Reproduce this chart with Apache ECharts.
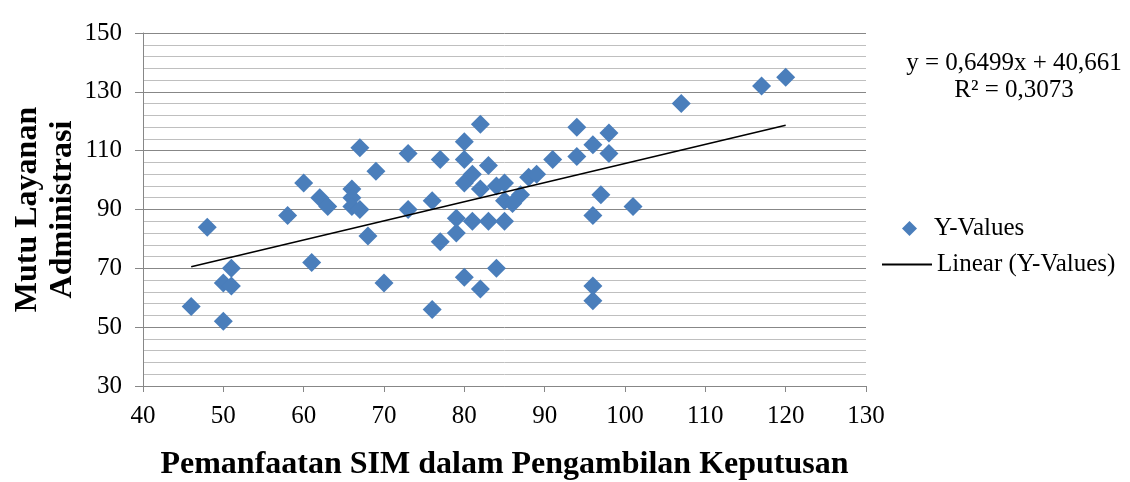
<!DOCTYPE html>
<html>
<head>
<meta charset="utf-8">
<script src="https://cdn.jsdelivr.net/npm/echarts@6/dist/echarts.min.js"></script>
<style>
html,body{margin:0;padding:0;background:#fff;}
#chart{width:1130px;height:482px;}
</style>
</head>
<body>
<div id="chart"></div>
<script>
// Data
const xValues = [46,48,50,50,51,51,58,60,61,62,63,66,66,66,67,67,68,69,70,73,73,76,76,77,77,79,79,80,80,80,80,81,81,82,82,82,83,83,84,84,85,85,85,86,87,88,89,91,94,94,96,96,96,96,97,98,98,101,107,117,120];
const yValues = [57,84,65,52,70,64,88,99,72,94,91,97,94,91,111,90,81,103,65,109,90,93,56,107,79,87,82,113,107,99,67,102,86,119,97,63,105,86,98,70,99,93,86,92,95,101,102,107,118,108,112,88,64,59,95,116,109,91,126,132,135];
const trendSlope = 0.6499;
const trendIntercept = 40.661;
const equationText = 'y = 0,6499x + 40,661';
const r2Text = 'R² = 0,3073';
const seriesName = 'Y-Values';
const trendName = 'Linear (Y-Values)';
const xAxisTitle = 'Pemanfaatan SIM dalam Pengambilan Keputusan';
const yAxisTitle = 'Mutu Layanan\nAdministrasi';

const FONT = '"Liberation Serif", "Times New Roman", serif';
const points = xValues.map((x, i) => [x, yValues[i]]);
const minX = Math.min(...xValues), maxX = Math.max(...xValues);
const trendData = [[minX, trendSlope * minX + trendIntercept], [maxX, trendSlope * maxX + trendIntercept]];

const chart = echarts.init(document.getElementById('chart'), null, {renderer: 'canvas'});
chart.setOption({
  animation: false,
  backgroundColor: '#fff',
  grid: {left: 143, right: 264, top: 33, bottom: 96, containLabel: false, outerBoundsMode: 'none'},
  xAxis: {
    type: 'value', min: 40, max: 130, interval: 10,
    name: xAxisTitle, nameLocation: 'middle', nameGap: 63, nameMoveOverlap: false,
    nameTextStyle: {fontFamily: FONT, fontSize: 32, fontWeight: 'bold', color: '#000'},
    axisLine: {show: true, lineStyle: {color: '#878787', width: 1}},
    axisTick: {show: true, inside: false, length: 6, lineStyle: {color: '#878787'}},
    axisLabel: {fontFamily: FONT, fontSize: 25, color: '#000', margin: 18},
    splitLine: {show: false}
  },
  yAxis: {
    type: 'value', min: 30, max: 150, interval: 20,
    name: yAxisTitle, nameLocation: 'middle', nameGap: 63, nameMoveOverlap: false,
    nameTextStyle: {fontFamily: FONT, fontSize: 32, fontWeight: 'bold', color: '#000', lineHeight: 35},
    axisLine: {show: true, lineStyle: {color: '#878787', width: 1}},
    axisTick: {show: true, inside: false, length: 8, lineStyle: {color: '#878787'}},
    axisLabel: {fontFamily: FONT, fontSize: 25, color: '#000', margin: 21},
    splitLine: {show: true, lineStyle: {color: '#878787', width: 1}},
    minorTick: {show: false, splitNumber: 5},
    minorSplitLine: {show: true, lineStyle: {color: '#bfbfbf', width: 1}}
  },
  legend: [
    {
      data: [{name: seriesName, icon: 'diamond'}],
      left: 897, top: 211, itemWidth: 15, itemHeight: 15,
      textStyle: {fontFamily: FONT, fontSize: 25, color: '#000', padding: [0, 0, 0, 12]}
    },
    {
      data: [{name: trendName, icon: 'rect'}],
      left: 877, top: 247, itemWidth: 50, itemHeight: 2,
      textStyle: {fontFamily: FONT, fontSize: 25, color: '#000'}
    }
  ],
  graphic: [{
    type: 'text', x: 1014, y: 50,
    style: {
      text: equationText + '\n' + r2Text,
      textAlign: 'center', textVerticalAlign: 'top',
      fontFamily: FONT, fontSize: 25, lineHeight: 27, fill: '#000'
    }
  }],
  series: [
    {
      name: seriesName, type: 'scatter', data: points,
      symbol: 'diamond', symbolSize: 19,
      itemStyle: {color: '#4a7ebb', opacity: 1},
      z: 3
    },
    {
      name: trendName, type: 'line', data: trendData,
      showSymbol: false, symbol: 'none',
      lineStyle: {color: '#000', width: 1.6},
      itemStyle: {color: '#000'},
      z: 4
    }
  ]
});
</script>
</body>
</html>
